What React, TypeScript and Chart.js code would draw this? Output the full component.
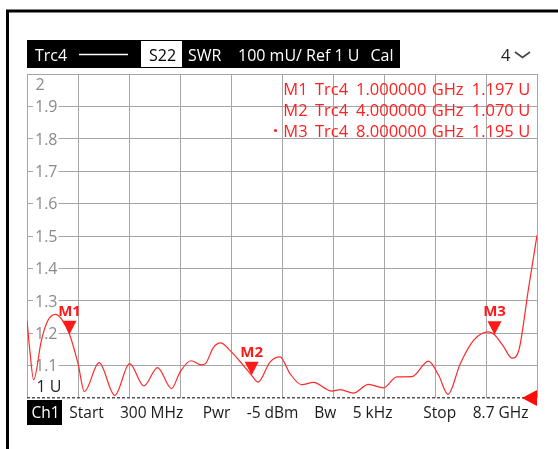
import React, { useEffect, useRef } from "react";
import { Chart, registerables } from "chart.js";

Chart.register(...registerables);

// ---- data ----
const freqGHz = [
  0.3, 0.345, 0.41, 0.537, 0.646, 0.773, 0.889, 1.0, 1.141, 1.245,
  1.487, 1.746, 1.99, 2.225, 2.45, 2.68, 2.82, 3.0, 3.17, 3.24,
  3.367, 3.49, 3.643, 3.862, 4.0, 4.105, 4.302, 4.467, 4.632, 4.825,
  5.016, 5.32, 5.457, 5.676, 5.923, 6.171, 6.39, 6.64, 6.913, 7.08,
  7.233, 7.436, 7.655, 7.902, 8.0, 8.145, 8.288, 8.4, 8.557, 8.7,
];
const swrU = [
  1.238, 1.15, 1.056, 1.178, 1.24, 1.258, 1.238, 1.197, 1.106, 1.02,
  1.109, 1.008, 1.106, 1.037, 1.094, 1.029, 1.08, 1.115, 1.102, 1.106,
  1.155, 1.17, 1.147, 1.101, 1.07, 1.049, 1.111, 1.127, 1.075, 1.041,
  1.048, 1.021, 1.026, 1.015, 1.042, 1.031, 1.065, 1.066, 1.114, 1.07,
  1.011, 1.106, 1.178, 1.204, 1.195, 1.16, 1.123, 1.147, 1.334, 1.502,
];

const markerNames = ["M1", "M2", "M3"];
const markerTrace = ["Trc4", "Trc4", "Trc4"];
const markerFreqGHz = [1.0, 4.0, 8.0];
const markerSwr = [1.197, 1.07, 1.195];
const markerFreqText = ["1.000000", "4.000000", "8.000000"];
const markerValueText = ["1.197", "1.070", "1.195"];

const yMin = 1;
const yMax = 2;
const yStep = 0.1;
const yTickLabels = ["1.1", "1.2", "1.3", "1.4", "1.5", "1.6", "1.7", "1.8", "1.9"];
const yTickValues = [1.1, 1.2, 1.3, 1.4, 1.5, 1.6, 1.7, 1.8, 1.9];
const yTopLabel = "2";
const yBottomLabel = "1 U";

const xStartGHz = 0.3;
const xStopGHz = 8.7;
const xDivisions = 10;

const headerTexts = ["Trc4", "S22", "SWR", "100 mU/ Ref 1 U", "Cal"];
const footerTexts = ["Ch1", "Start", "300 MHz", "Pwr", "-5 dBm", "Bw", "5 kHz", "Stop", "8.7 GHz"];
const windowLabel = "4";

const RED = "#ff2020";
const FONT = "'Open Sans', 'Noto Sans', sans-serif";

function text(ctx: CanvasRenderingContext2D, s: string, x: number, y: number, color: string, font: string, align: CanvasTextAlign = "left") {
  ctx.save();
  ctx.font = font;
  ctx.fillStyle = color;
  ctx.textAlign = align;
  ctx.textBaseline = "alphabetic";
  ctx.fillText(s, x, y);
  ctx.restore();
}

const overlayPlugin = {
  id: "vnaOverlay",
  beforeDraw(chart: any) {
    const ctx: CanvasRenderingContext2D = chart.ctx;
    ctx.save();
    ctx.fillStyle = "#ffffff";
    ctx.fillRect(0, 0, chart.width, chart.height);
    // outer frame
    ctx.strokeStyle = "#000";
    ctx.lineWidth = 3;
    ctx.beginPath();
    ctx.moveTo(7.5, chart.height + 5);
    ctx.lineTo(7.5, 11);
    ctx.lineTo(chart.width + 5, 11);
    ctx.stroke();
    // header bar
    ctx.fillStyle = "#000";
    ctx.fillRect(27, 40, 373, 28);
    ctx.fillStyle = "#fff";
    ctx.fillRect(141, 41, 41, 26);
    ctx.strokeStyle = "#fff";
    ctx.lineWidth = 1.5;
    ctx.beginPath();
    ctx.moveTo(79, 54.5);
    ctx.lineTo(128, 54.5);
    ctx.stroke();
    const hf = `16px ${FONT}`;
    text(ctx, headerTexts[0], 35, 61, "#fff", hf);
    text(ctx, headerTexts[1], 149, 61, "#000", hf);
    text(ctx, headerTexts[2], 188, 61, "#fff", hf);
    text(ctx, headerTexts[3], 238, 61, "#fff", hf);
    text(ctx, headerTexts[4], 370.5, 61, "#fff", hf);
    // window number + chevron
    text(ctx, windowLabel, 501, 61, "#222", `16.5px ${FONT}`);
    ctx.strokeStyle = "#444";
    ctx.lineWidth = 1.6;
    ctx.beginPath();
    ctx.moveTo(515, 52);
    ctx.lineTo(522.5, 57.5);
    ctx.lineTo(530, 52);
    ctx.stroke();
    // footer
    ctx.fillStyle = "#000";
    ctx.fillRect(27, 400, 35, 25);
    const ff = `15.5px ${FONT}`;
    const fx = [31.5, 69.3, 120, 202.7, 246.7, 314.3, 352.7, 423.3, 472.7];
    footerTexts.forEach((s, i) => text(ctx, s, fx[i], 418, i === 0 ? "#fff" : "#1a1a1a", ff));
    ctx.restore();
  },
  beforeDatasetsDraw(chart: any) {
    const ctx: CanvasRenderingContext2D = chart.ctx;
    const y = chart.scales.y;
    const area = chart.chartArea;
    const lf = `16px ${FONT}`;
    ctx.save();
    ctx.font = lf;
    yTickValues.forEach((v, i) => {
      const py = y.getPixelForValue(v);
      const w = ctx.measureText(yTickLabels[i]).width;
      ctx.fillStyle = "#fff";
      ctx.fillRect(area.left + 6, py - 2, w + 3, 4);
      text(ctx, yTickLabels[i], area.left + 8, py + 5.8, "#8a8a8a", lf);
    });
    text(ctx, yTopLabel, area.left + 8.5, area.top + 15.5, "#8a8a8a", lf);
    text(ctx, yBottomLabel, area.left + 9.5, y.getPixelForValue(yMin) - 6, "#222", lf);
    // dashed reference line
    ctx.strokeStyle = "#555";
    ctx.lineWidth = 1.5;
    ctx.setLineDash([3, 2]);
    ctx.beginPath();
    const by = Math.round(y.getPixelForValue(yMin)) - 0.25;
    ctx.moveTo(area.left, by);
    ctx.lineTo(area.right, by);
    ctx.stroke();
    ctx.setLineDash([]);
    ctx.restore();
  },
  afterDatasetsDraw(chart: any) {
    const ctx: CanvasRenderingContext2D = chart.ctx;
    const x = chart.scales.x;
    const y = chart.scales.y;
    const area = chart.chartArea;
    ctx.save();
    // markers
    markerNames.forEach((name, i) => {
      const px = x.getPixelForValue(markerFreqGHz[i]);
      const py = y.getPixelForValue(markerSwr[i]);
      ctx.fillStyle = "#ff1a1a";
      ctx.beginPath();
      ctx.moveTo(px - 7, py - 13.5);
      ctx.lineTo(px + 7, py - 13.5);
      ctx.lineTo(px, py);
      ctx.closePath();
      ctx.fill();
      text(ctx, name, px, py - 18.5, "#ff1a1a", `bold 15px ${FONT}`, "center");
    });
    // reference level arrow on right
    const ry = y.getPixelForValue(yMin);
    ctx.fillStyle = "#ff0a0a";
    ctx.beginPath();
    ctx.moveTo(area.right - 15, ry);
    ctx.lineTo(area.right, ry - 8);
    ctx.lineTo(area.right, ry + 8);
    ctx.closePath();
    ctx.fill();
    // marker table
    const tf = `16.5px ${FONT}`;
    const cols = [283.3, 315, 356, 431.7, 471.7, 518.3];
    const rows = [95, 116, 136.5];
    markerNames.forEach((name, i) => {
      const r = rows[i];
      text(ctx, name, cols[0], r, RED, tf);
      text(ctx, markerTrace[i], cols[1], r, RED, tf);
      text(ctx, markerFreqText[i], cols[2], r, RED, tf);
      text(ctx, "GHz", cols[3], r, RED, tf);
      text(ctx, markerValueText[i], cols[4], r, RED, tf);
      text(ctx, "U", cols[5], r, RED, tf);
    });
    ctx.fillStyle = RED;
    ctx.beginPath();
    ctx.arc(275.5, 130.5, 1.6, 0, Math.PI * 2);
    ctx.fill();
    ctx.restore();
  },
};

export default function App() {
  const ref = useRef<HTMLCanvasElement | null>(null);
  useEffect(() => {
    if (!ref.current) return;
    const points = freqGHz.map((f, i) => ({ x: f, y: swrU[i] }));
    const xGrid: number[] = [];
    for (let i = 0; i <= xDivisions; i++) xGrid.push(xStartGHz + (i * (xStopGHz - xStartGHz)) / xDivisions);
    const yGrid: number[] = [];
    for (let v = yMin; v <= yMax + 1e-9; v += yStep) yGrid.push(Math.round(v * 10) / 10);
    const chart = new Chart(ref.current, {
      type: "line",
      data: {
        datasets: [
          {
            data: points,
            borderColor: "#ff2a2a",
            borderWidth: 1.2,
            pointRadius: 0,
            cubicInterpolationMode: "monotone",
            fill: false,
          },
        ],
      },
      options: {
        animation: false,
        responsive: false,
        events: [],
        layout: { padding: { left: 27, right: 21, top: 74, bottom: 51 } },
        plugins: { legend: { display: false }, tooltip: { enabled: false } },
        scales: {
          x: {
            type: "linear",
            min: xStartGHz,
            max: xStopGHz,
            afterBuildTicks: (s: any) => {
              s.ticks = xGrid.map((v) => ({ value: v }));
            },
            ticks: { display: false },
            grid: { color: "#a6a6a6", lineWidth: 1, drawTicks: false },
            border: { display: false },
          },
          y: {
            type: "linear",
            min: yMin,
            max: yMax,
            afterBuildTicks: (s: any) => {
              s.ticks = yGrid.map((v) => ({ value: v }));
            },
            ticks: { display: false },
            grid: {
              color: (c: any) => (Math.abs(c.tick.value - yMin) < 1e-6 ? "rgba(0,0,0,0)" : "#a6a6a6"),
              lineWidth: 1,
              drawTicks: false,
            },
            border: { display: false },
          },
        },
      },
      plugins: [overlayPlugin],
    } as any);
    return () => chart.destroy();
  }, []);
  return (
    <div style={{ position: "fixed", left: 0, top: 0, width: 558, height: 449, background: "#fff" }}>
      <canvas ref={ref} width={558} height={449} style={{ display: "block", width: 558, height: 449 }} />
    </div>
  );
}
